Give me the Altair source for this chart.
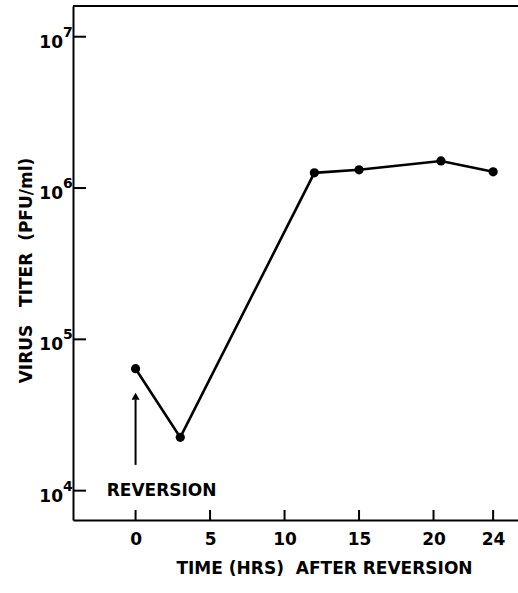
import altair as alt
import pandas as pd

# data
hours = [0, 3, 12, 15, 20.5, 24]
titer = [6.4e4, 2.25e4, 1.26e6, 1.32e6, 1.51e6, 1.28e6]

x_ticks = [0, 5, 10, 15, 20, 24]
y_ticks = [1e4, 1e5, 1e6, 1e7]
y_exp = ["4", "5", "6", "7"]

arrow_x = [0]
arrow_y0 = [1.48e4]
arrow_y1 = [4.0e4]
arrow_tip = [4.2e4]

label_text = ["REVERSION"]
label_x = [1.75]
label_y = [1.0e4]

NB = "\u00a0"
FONT = "DejaVu Sans"
W, H = 445, 514
xdom = [-4.2, 25.67]
ydom = [6398, 1.596e7]

df = pd.DataFrame({"h": hours, "t": titer})
xt = pd.DataFrame({"h": x_ticks})
yt = pd.DataFrame({"t": y_ticks, "e": y_exp})
arr = pd.DataFrame({"h": arrow_x, "y0": arrow_y0, "y1": arrow_y1, "tip": arrow_tip})
lab = pd.DataFrame({"h": label_x, "t": label_y, "s": label_text})

xs = alt.Scale(domain=xdom, nice=False, zero=False)
ys = alt.Scale(type="log", domain=ydom, nice=False)

xaxis = alt.Axis(values=x_ticks, ticks=False, grid=False, domainColor="black",
                 domainWidth=2, labelFont=FONT, labelFontSize=17, labelFontWeight="bold",
                 labelColor="black", labelPadding=11, labelFlush=False,
                 title="TIME (HRS)" + NB + NB + "AFTER" + NB + "REVERSION",
                 titleFont=FONT, titleFontSize=17,
                 titleFontWeight="bold", titleColor="black", titleX=251, titleY=48,
                 titleAlign="center", titleBaseline="middle")
yaxis = alt.Axis(values=y_ticks, ticks=False, labels=False, grid=False,
                 domainColor="black", domainWidth=2,
                 title="VIRUS" + NB * 3 + "TITER" + NB * 2 + "(PFU/ml)",
                 titleFont=FONT, titleFontSize=17,
                 titleFontWeight="bold", titleColor="black", titleX=-47, titleY=264,
                 titleAngle=270, titleAlign="center", titleBaseline="middle")

line = alt.Chart(df).mark_line(color="black", strokeWidth=2.6).encode(
    x=alt.X("h:Q", scale=xs, axis=xaxis),
    y=alt.Y("t:Q", scale=ys, axis=yaxis),
)
pts = alt.Chart(df).mark_circle(color="black", size=85, opacity=1).encode(
    x=alt.X("h:Q", scale=xs), y=alt.Y("t:Q", scale=ys))

xtick_m = alt.Chart(xt).mark_rule(color="black", strokeWidth=2).encode(
    x=alt.X("h:Q", scale=xs), y=alt.value(H), y2=alt.value(H - 10))
ytick_m = alt.Chart(yt).mark_rule(color="black", strokeWidth=2).encode(
    y=alt.Y("t:Q", scale=ys), x=alt.value(0), x2=alt.value(13))
ybase = alt.Chart(yt).mark_text(font=FONT, fontSize=17, fontWeight="bold", align="right",
                                baseline="middle", dx=-10, dy=6, color="black").encode(
    y=alt.Y("t:Q", scale=ys), x=alt.value(0), text=alt.value("10"))
yexp = alt.Chart(yt).mark_text(font=FONT, fontSize=14, fontWeight="bold", align="left",
                               baseline="middle", dx=-10, dy=-4, color="black").encode(
    y=alt.Y("t:Q", scale=ys), x=alt.value(0), text="e:N")

top = alt.Chart(xt).mark_rule(color="black", strokeWidth=2).encode(
    x=alt.value(0), x2=alt.value(W), y=alt.value(0))

arrow = alt.Chart(arr).mark_rule(color="black", strokeWidth=2).encode(
    x=alt.X("h:Q", scale=xs), y=alt.Y("y0:Q", scale=ys), y2="y1:Q")
head = alt.Chart(arr).mark_point(shape="triangle-up", filled=True, color="black",
                                 size=65, opacity=1).encode(
    x=alt.X("h:Q", scale=xs), y=alt.Y("tip:Q", scale=ys))
label = alt.Chart(lab).mark_text(font=FONT, fontSize=17, fontWeight="bold",
                                 baseline="middle", align="center", color="black").encode(
    x=alt.X("h:Q", scale=xs), y=alt.Y("t:Q", scale=ys), text="s:N")

chart = alt.layer(line, pts, xtick_m, ytick_m, ybase, yexp, top, arrow, head, label).properties(
    width=W, height=H,
    autosize=alt.AutoSizeParams(type="none"),
    padding={"left": 73, "top": 6, "right": 0, "bottom": 73},
).configure_view(stroke=None).configure(background="white")

chart.save("out.html", embed_options={"renderer": "svg", "actions": False})
